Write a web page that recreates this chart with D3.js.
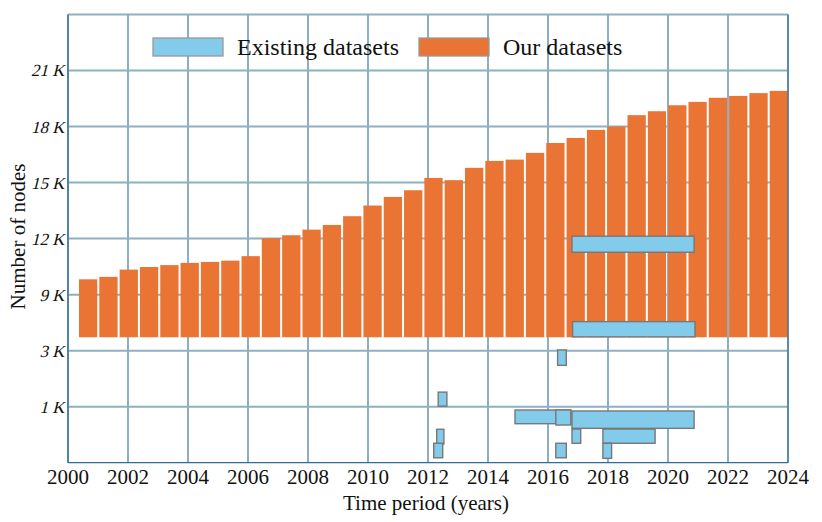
<!DOCTYPE html>
<html>
<head>
<meta charset="utf-8">
<script src="https://cdn.jsdelivr.net/npm/d3@7"></script>
<style>
  html, body { margin: 0; padding: 0; background: #fff; }
  svg text { font-family: "Liberation Serif", "Times New Roman", serif; fill: #111; }
</style>
</head>
<body>
<div id="chart"></div>
<script>
(function() {
    "use strict";

    // our datasets: node count per snapshot (35 snapshots)
    var ourNodes = [
        9820, 9950, 10340, 10480, 10580, 10700, 10750, 10820, 11060, 12020,
        12180, 12480, 12730, 13200, 13770, 14230, 14590, 15250, 15130, 15790,
        16160, 16230, 16590, 17120, 17390, 17820, 18000, 18610, 18820, 19140,
        19320, 19540, 19640, 19790, 19910
    ];
    var ourBase = 3900;

    // existing datasets: time span and node range
    var existStart = [2016.8, 2016.82, 2016.32, 2012.34, 2014.9, 2016.26, 2016.8, 2012.29, 2012.19, 2016.8, 2017.83, 2016.26, 2017.83];
    var existEnd   = [2020.87, 2020.9, 2016.61, 2012.63, 2016.76, 2016.76, 2020.87, 2012.53, 2012.49, 2017.09, 2019.57, 2016.61, 2018.12];
    var existLow   = [11270, 3930, 2250, 1010, 716, 698, 654, 481, 367, 488, 488, 367, 363];
    var existHigh  = [12130, 5300, 3040, 1330, 937, 937, 919, 642, 488, 645, 645, 488, 488];

    var yTicks = [1000, 3000, 9000, 12000, 15000, 18000, 21000];
    var xTicks = d3.range(2000, 2025, 2);

    var W = 822, Hs = 522;
    var margin = { top: 14.5, right: 34, bottom: 59.3, left: 68 };
    var width = W - margin.left - margin.right;
    var height = Hs - margin.top - margin.bottom;
    var step = height / 8;

    var x = d3.scaleLinear().domain([2000, 2024]).range([0, width]);

    // broken axis: log (base 3) below 9K, linear above
    var yLow = d3.scaleLog().base(3).domain([1000 / 3, 9000]).range([height, height - 3 * step]);
    var yHigh = d3.scaleLinear().domain([9000, 24000]).range([height - 3 * step, 0]);
    function y(v) { return v <= 9000 ? yLow(v) : yHigh(v); }

    var band = d3.scaleBand()
        .domain(d3.range(ourNodes.length))
        .range([11, width])
        .paddingInner(0.1)
        .paddingOuter(0);

    var svg = d3.select("#chart").append("svg")
        .attr("width", W).attr("height", Hs);
    var g = svg.append("g").attr("transform", "translate(" + margin.left + "," + margin.top + ")");

    var hColor = "#8fb0c4", vColor = "#2e6e98";

    // grid
    g.append("g").selectAll("line").data(xTicks).join("line")
        .attr("x1", function(d) { return x(d); }).attr("x2", function(d) { return x(d); })
        .attr("y1", 0).attr("y2", height)
        .attr("stroke", vColor).attr("stroke-width", 1.1);
    g.append("g").selectAll("line").data(yTicks.concat([24000])).join("line")
        .attr("x1", 0).attr("x2", width)
        .attr("y1", function(d) { return y(d); }).attr("y2", function(d) { return y(d); })
        .attr("stroke", hColor).attr("stroke-width", 2);

    // our datasets
    g.append("g").selectAll("rect").data(ourNodes).join("rect")
        .attr("x", function(d, i) { return band(i); })
        .attr("width", band.bandwidth())
        .attr("y", function(d) { return y(d); })
        .attr("height", function(d) { return y(ourBase) - y(d); })
        .attr("fill", "#ea7434");

    // existing datasets
    g.append("g").selectAll("rect").data(existStart).join("rect")
        .attr("x", function(d) { return x(d); })
        .attr("width", function(d, i) { return x(existEnd[i]) - x(d); })
        .attr("y", function(d, i) { return y(existHigh[i]); })
        .attr("height", function(d, i) { return y(existLow[i]) - y(existHigh[i]); })
        .attr("fill", "#83cbea")
        .attr("stroke", "#777")
        .attr("stroke-width", 1.4);

    // axes frame
    g.append("line").attr("x1", 0).attr("x2", 0).attr("y1", 0).attr("y2", height)
        .attr("stroke", vColor).attr("stroke-width", 1.3);
    g.append("line").attr("x1", 0).attr("x2", width).attr("y1", height).attr("y2", height)
        .attr("stroke", vColor).attr("stroke-width", 1.3);
    g.append("line").attr("x1", width).attr("x2", width).attr("y1", 0).attr("y2", height)
        .attr("stroke", vColor).attr("stroke-width", 1.1);

    // tick labels (slanted serif like the original)
    g.append("g").selectAll("text").data(yTicks).join("text")
        .attr("transform", function(d) { return "translate(-2," + y(d) + ") skewX(-14)"; })
        .attr("dy", "0.35em")
        .attr("text-anchor", "end")
        .style("font-size", "17px")
        .text(function(d) { return (d / 1000) + " K"; });

    g.append("g").selectAll("text").data(xTicks).join("text")
        .attr("x", function(d) { return x(d); }).attr("y", height + 21)
        .attr("text-anchor", "middle")
        .style("font-size", "21px")
        .text(function(d) { return d; });

    svg.append("text")
        .attr("x", margin.left + width / 2 - 2).attr("y", 510)
        .attr("text-anchor", "middle")
        .style("font-size", "21px")
        .text("Time period (years)");

    svg.append("text")
        .attr("transform", "translate(25," + (margin.top + 222) + ") rotate(-90)")
        .attr("text-anchor", "middle")
        .style("font-size", "21px")
        .text("Number of nodes");

    // legend
    var legend = [
        { label: "Existing datasets", color: "#83cbea", x: 153 },
        { label: "Our datasets", color: "#ea7434", x: 419 }
    ];
    var lg = svg.append("g").selectAll("g").data(legend).join("g")
        .attr("transform", function(d) { return "translate(" + d.x + ",38)"; });
    lg.append("rect")
        .attr("width", 70).attr("height", 18)
        .attr("fill", function(d) { return d.color; })
        .attr("stroke", "#999").attr("stroke-width", 1.3);
    lg.append("text")
        .attr("x", 84).attr("y", 17)
        .style("font-size", "24px")
        .text(function(d) { return d.label; });
})();
</script>
</body>
</html>
